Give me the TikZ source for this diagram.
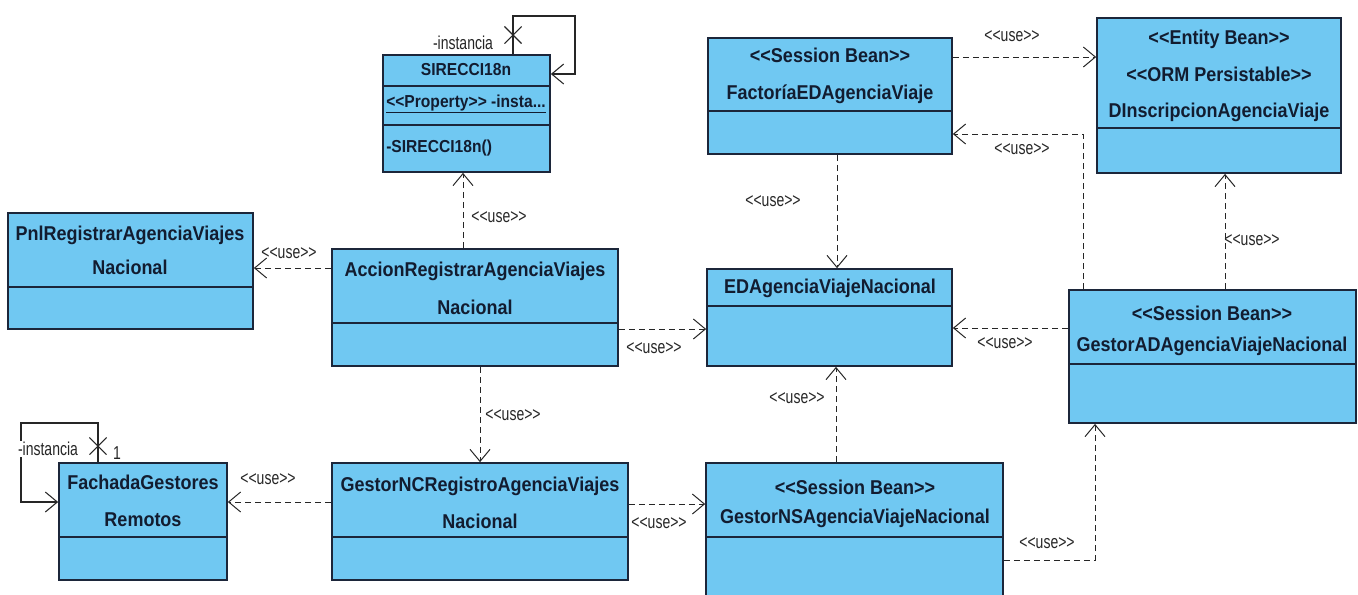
\documentclass[tikz,border=0pt]{standalone}
\usepackage{fontspec}
\setmainfont{Liberation Sans}
\newfontfamily\titlefont{Liberation Sans}[FakeStretch=0.9]
\newfontfamily\narrowfont{Liberation Sans}[FakeStretch=0.75]
\usetikzlibrary{arrows.meta,fit,shapes.misc}
\definecolor{clsfill}{RGB}{112,200,242}
\definecolor{clsline}{RGB}{28,38,58}
\definecolor{clstext}{RGB}{18,28,48}
\newcommand{\stereo}[1]{<{}<#1>{}>}
\tikzstyle{cls}=[rectangle, draw=clsline, fill=clsfill, line width=1.3pt, inner sep=0pt]
\tikzstyle{sep}=[draw=clsline, line width=1.3pt]
\tikzstyle{title}=[inner sep=0pt, align=center, text=clstext, font={\titlefont\fontsize{15}{27.5}\selectfont\bfseries}]
\tikzstyle{member}=[inner sep=0pt, anchor=west, text=clstext, font={\titlefont\fontsize{13}{14}\selectfont\bfseries}]
\tikzstyle{use}=[draw=black!85, line width=0.75pt, dash pattern=on 4.5pt off 3pt, -{Straight Barb[length=9pt,width=15pt]}]
\tikzstyle{selfref}=[draw=black!85, line width=0.8pt, -{Straight Barb[length=9pt,width=15pt]}]
\tikzstyle{lbl}=[inner sep=1pt, text=black!85, font={\narrowfont\fontsize{14}{15}\selectfont}]
\tikzstyle{nonav}=[cross out, draw=black!85, line width=0.8pt, inner sep=0pt, minimum size=12pt]

\begin{document}
\begin{tikzpicture}[x=0.75pt, y=-0.75pt]
\useasboundingbox (0,0) rectangle (1358,594);

%The singleton
\node[cls, fit={(383,55) (550,172)}] (sir) {};
\draw[sep] (sir.west |- 0,86) -- (sir.east |- 0,86);
\draw[sep] (sir.west |- 0,125) -- (sir.east |- 0,125);
\node[title, font={\titlefont\fontsize{13}{14}\selectfont\bfseries}] (sir-name) at (466,70) {SIRECCI18n};
\node[member] (sir-attr) at (386,104) {\underline{\stereo{Property} -insta...}};
\node[member] (sir-op) at (386,148) {-SIRECCI18n()};

%The beans
\node[cls, fit={(708,38) (952,154)}] (fac) {};
\draw[sep] (fac.west |- 0,111) -- (fac.east |- 0,111);
\node[title] (fac-name) at (830,76) {\stereo{Session Bean}\\FactoríaEDAgenciaViaje};

\node[cls, fit={(1097,18) (1341,173)}] (din) {};
\draw[sep] (din.west |- 0,128) -- (din.east |- 0,128);
\node[title] (din-name) at (1219,76) {\stereo{Entity Bean}\\\stereo{ORM Persistable}\\DInscripcionAgenciaViaje};

%The middle row
\node[cls, fit={(8,213) (253,329)}] (pnl) {};
\draw[sep] (pnl.west |- 0,287) -- (pnl.east |- 0,287);
\node[title, font={\titlefont\fontsize{15}{25.5}\selectfont\bfseries}] (pnl-name) at (130,250) {PnlRegistrarAgenciaViajes\\Nacional};

\node[cls, fit={(332,249) (618,366)}] (acc) {};
\draw[sep] (acc.west |- 0,323) -- (acc.east |- 0,323);
\node[title, font={\titlefont\fontsize{15}{28.5}\selectfont\bfseries}] (acc-name) at (475,288) {AccionRegistrarAgenciaViajes\\Nacional};

\node[cls, fit={(707,269) (952,366)}] (eda) {};
\draw[sep] (eda.west |- 0,306) -- (eda.east |- 0,306);
\node[title] (eda-name) at (830,288) {EDAgenciaViajeNacional};

\node[cls, fit={(1069,290) (1356,423)}] (gad) {};
\draw[sep] (gad.west |- 0,364) -- (gad.east |- 0,364);
\node[title, font={\titlefont\fontsize{15}{23}\selectfont\bfseries}] (gad-name) at (1212,331) {\stereo{Session Bean}\\GestorADAgenciaViajeNacional};

%The bottom row
\node[cls, fit={(59,463) (227,580)}] (fgr) {};
\draw[sep] (fgr.west |- 0,537) -- (fgr.east |- 0,537);
\node[title] (fgr-name) at (143,501) {FachadaGestores\\Remotos};

\node[cls, fit={(332,463) (628,580)}] (gnc) {};
\draw[sep] (gnc.west |- 0,537) -- (gnc.east |- 0,537);
\node[title] (gnc-name) at (480,503) {GestorNCRegistroAgenciaViajes\\Nacional};

\node[cls, fit={(706,463) (1003,610)}] (gns) {};
\draw[sep] (gns.west |- 0,537) -- (gns.east |- 0,537);
\node[title, font={\titlefont\fontsize{15}{22}\selectfont\bfseries}] (gns-name) at (855,504) {\stereo{Session Bean}\\GestorNSAgenciaViajeNacional};

%The dependencies
\draw[use] (acc.west |- 0,268) -- (pnl.east |- 0,268);
\draw[use] (acc.north -| 463,0) -- (sir.south -| 463,0);
\draw[use] (acc.east |- 0,329) -- (eda.west |- 0,329);
\draw[use] (acc.south -| 480,0) -- (gnc.north -| 480,0);
\draw[use] (gnc.west |- 0,502) -- (fgr.east |- 0,502);
\draw[use] (gnc.east |- 0,504) -- (gns.west |- 0,504);
\draw[use] (gns.north -| 836,0) -- (eda.south -| 836,0);
\draw[use] (gns.east |- 0,560) -| (gad.south -| 1095,0);
\draw[use] (gad.west |- 0,328) -- (eda.east |- 0,328);
\draw[use] (gad.north -| 1225,0) -- (din.south -| 1225,0);
\draw[use] (gad.north -| 1083,0) |- (fac.east |- 0,134);
\draw[use] (fac.east |- 0,57) -- (din.west |- 0,57);
\draw[use] (fac.south -| 837,0) -- (eda.north -| 837,0);

%The use labels
\node[lbl] (u-pnl) at (289,253) {\stereo{use}};
\node[lbl] (u-sir) at (499,217) {\stereo{use}};
\node[lbl] (u-acc) at (654,348) {\stereo{use}};
\node[lbl] (u-gnc) at (513,415) {\stereo{use}};
\node[lbl] (u-fgr) at (268,479) {\stereo{use}};
\node[lbl] (u-gns) at (659,523) {\stereo{use}};
\node[lbl] (u-eda) at (797,398) {\stereo{use}};
\node[lbl] (u-gad) at (1047,543) {\stereo{use}};
\node[lbl] (u-ged) at (1005,343) {\stereo{use}};
\node[lbl] (u-din) at (1252,240) {\stereo{use}};
\node[lbl] (u-fac) at (1022,149) {\stereo{use}};
\node[lbl] (u-fdi) at (1012,36) {\stereo{use}};
\node[lbl] (u-fed) at (773,201) {\stereo{use}};

%The self references
\coordinate (sir-loop) at (575,16);
\draw[selfref] (sir.north -| 513,0) |- (sir-loop) |- (sir.east |- 0,74);
\node[nonav] (sir-x) at (513,35) {};
\node[lbl] (sir-inst) at (463,43) {-instancia};

\coordinate (fgr-loop) at (21,423);
\draw[selfref] (fgr.north -| 98,0) |- (fgr-loop) |- (fgr.west |- 0,502);
\node[nonav] (fgr-x) at (98,446) {};
\node[lbl, fill=white] (fgr-inst) at (48,449) {-instancia};
\node[lbl] (fgr-mult) at (117,453) {1};
\end{tikzpicture}
\end{document}
